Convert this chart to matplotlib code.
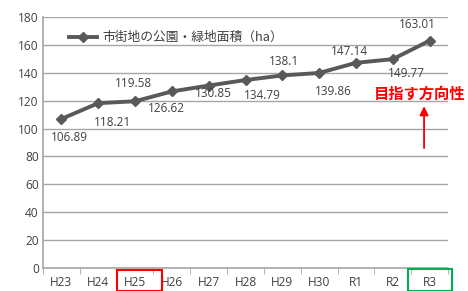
import matplotlib
matplotlib.use('Agg')
import matplotlib.pyplot as plt
from matplotlib.patches import Rectangle

plt.rcParams['font.family'] = ['Noto Sans CJK JP', 'DejaVu Sans']

years = ['H23', 'H24', 'H25', 'H26', 'H27', 'H28', 'H29', 'H30', 'R1', 'R2', 'R3']
area = [106.89, 118.21, 119.58, 126.62, 130.85, 134.79, 138.1, 139.86, 147.14, 149.77, 163.01]
# label offsets in points (dx, dy)
offsets = [(6, -13), (10, -14), (-1, 13), (-4, -12), (3, -6), (12, -11), (1, 10), (10, -13), (-5, 8), (10, -10), (-9, 12)]
series_name = '市街地の公園・緑地面積（ha）'

fig = plt.figure(figsize=(4.68, 2.91), dpi=100)
ax = fig.add_axes([43/468, 23/291, 405/468, 251/291])

x = range(len(years))
ax.plot(x, area, color='#595959', lw=2.8, marker='D', ms=5.5, label=series_name, zorder=3)
for i, v in enumerate(area):
    ax.annotate(f'{v:g}', (i, v), xytext=offsets[i], textcoords='offset points',
                ha='center', va='center', fontsize=8.5, color='#404040', family='Open Sans')

ax.set_xlim(-0.5, len(years) - 0.5)
ax.set_ylim(0, 180)
ax.set_yticks(range(0, 181, 20))
ax.set_xticks(list(x))
ax.set_xticklabels(years)
ax.set_xticks([i - 0.5 for i in range(len(years) + 1)], minor=True)
ax.tick_params(axis='x', which='major', length=0, pad=6)
ax.tick_params(axis='x', which='minor', length=4, color='#A6A6A6')
ax.tick_params(axis='y', length=0, pad=3)
for lab in ax.get_xticklabels() + ax.get_yticklabels():
    lab.set_fontsize(8.6)
    lab.set_color('#404040')
    lab.set_family('Open Sans')
ax.grid(axis='y', color='#A6A6A6', lw=1)
ax.set_axisbelow(True)
for s in ['top', 'right']:
    ax.spines[s].set_visible(False)
ax.spines['left'].set_color('#A6A6A6')
ax.spines['bottom'].set_color('#A6A6A6')
ax.spines['left'].set_linewidth(1.2)
ax.spines['bottom'].set_linewidth(1.2)

ax.legend(loc='upper left', bbox_to_anchor=(0.035, 0.99), frameon=False, fontsize=9.2,
          handlelength=2.2, handletextpad=0.4, labelcolor='#404040')

# highlight boxes around H25 and R3
fig.patches.append(Rectangle((117/468, 0), 45/468, 21/291, transform=fig.transFigure,
                             fill=False, ec='#FF0000', lw=1.5))
fig.patches.append(Rectangle((408/468, 0), 44/468, 22/291, transform=fig.transFigure,
                             fill=False, ec='#00B050', lw=1.5))

fig.text(420/468, 1 - 94/291, '目指す方向性', color='#FF0000', fontsize=11, fontweight='bold',
         ha='center', va='center')
ax.annotate('', xy=(9.85, 118), xytext=(9.85, 84),
            arrowprops=dict(arrowstyle='-|>', color='#FF0000', lw=1.3, mutation_scale=13))

fig.savefig('out.png', dpi=100)
